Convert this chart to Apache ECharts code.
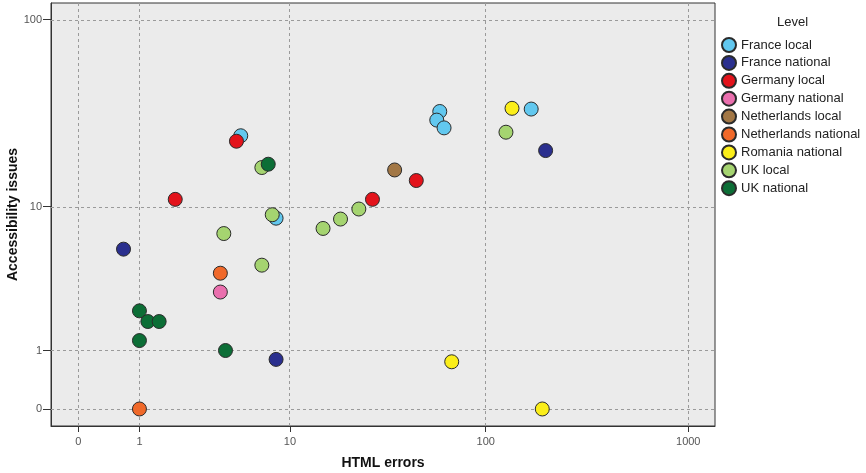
<!DOCTYPE html>
<html>
<head>
<meta charset="utf-8">
<script src="https://cdn.jsdelivr.net/npm/echarts@6/dist/echarts.min.js"></script>
<style>
  html, body { margin: 0; padding: 0; background: #fff; }
  #chart { width: 866px; height: 473px; }
</style>
</head>
<body>
<div id="chart"></div>
<script>
// tick labels (both axes use a log10(v + 1) scale)
var xTicks = [0, 1, 10, 100, 1000];
var yTicks = [0, 1, 10, 100];

// groups and their colours
var levels = ['France local', 'France national', 'Germany local', 'Germany national',
  'Netherlands local', 'Netherlands national', 'Romania national', 'UK local', 'UK national'];
var levelColors = ['#62c8ef', '#2a2f8e', '#e3131b', '#ea6fae', '#a27745',
  '#f0692a', '#fbee1a', '#a5d470', '#0c6e36'];

// HTML errors / accessibility issues per group
var franceLocalX = [5.3, 8.4, 59, 57, 62, 168];
var franceLocalY = [24.5, 8.6, 33, 29.7, 27, 34];
var franceNatX = [0.67, 8.4, 198];
var franceNatY = [5.65, 0.8, 20.4];
var germanyLocalX = [5, 2, 27, 45];
var germanyLocalY = [22.9, 11, 11, 14];
var germanyNatX = [4];
var germanyNatY = [3];
var nlLocalX = [35];
var nlLocalY = [16];
var nlNatX = [4, 1];
var nlNatY = [4, 0];
var romaniaNatX = [135, 67.7, 190.6];
var romaniaNatY = [34.3, 0.75, 0];
var ukLocalX = [7, 8, 4.2, 7, 15, 18.5, 23, 126];
var ukLocalY = [16.5, 9, 7, 4.5, 7.5, 8.5, 9.7, 25.6];
var ukNatX = [7.6, 1, 1.2, 1.5, 1, 4.3];
var ukNatY = [17.2, 2.2, 1.82, 1.82, 1.25, 1];

var groupX = [franceLocalX, franceNatX, germanyLocalX, germanyNatX, nlLocalX, nlNatX, romaniaNatX, ukLocalX, ukNatX];
var groupY = [franceLocalY, franceNatY, germanyLocalY, germanyNatY, nlLocalY, nlNatY, romaniaNatY, ukLocalY, ukNatY];

function tf(v) { return Math.log10(v + 1); }
function untf(v) { return Math.round(Math.pow(10, v) - 1); }

var chart = echarts.init(document.getElementById('chart'));
var font = 'Liberation Sans, Arial, sans-serif';

var series = [];
// grid lines at the tick values, kept under the points
series.push({
  type: 'scatter',
  name: '_grid',
  data: [],
  z: 1,
  silent: true,
  markLine: {
    z: 1,
    silent: true,
    symbol: ['none', 'none'],
    label: { show: false },
    lineStyle: { color: '#9a9a9a', type: [3, 3], width: 1 },
    data: xTicks.map(function (t) { return { xAxis: tf(t) }; })
      .concat(yTicks.map(function (t) { return { yAxis: tf(t) }; }))
  }
});
for (var i = 0; i < levels.length; i++) {
  var pts = [];
  for (var j = 0; j < groupX[i].length; j++) {
    pts.push([tf(groupX[i][j]), tf(groupY[i][j])]);
  }
  series.push({
    type: 'scatter',
    name: levels[i],
    data: pts,
    z: 6,
    symbolSize: 14,
    itemStyle: { color: levelColors[i], borderColor: '#2b2b2b', borderWidth: 1, opacity: 1 }
  });
}

var option = {
  animation: false,
  textStyle: { fontFamily: font },
  title: {
    text: 'Level', left: 772, top: 11,
    textStyle: { fontFamily: font, fontSize: 13, fontWeight: 'normal', color: '#222' }
  },
  legend: {
    data: levels,
    orient: 'vertical',
    left: 716, top: 32,
    itemWidth: 14, itemHeight: 14, itemGap: 1.9,
    icon: 'circle',
    textStyle: { fontFamily: font, fontSize: 13, color: '#222' }
  },
  grid: {
    left: 51, right: 151, top: 3, bottom: 47,
    outerBoundsMode: 'none', containLabel: false,
    show: true, backgroundColor: '#ebebeb', borderColor: '#333', borderWidth: 1
  },
  xAxis: {
    type: 'value', min: -0.134, max: 3.132,
    name: 'HTML errors', nameLocation: 'middle', nameGap: 30, nameMoveOverlap: false,
    nameTextStyle: { fontFamily: font, fontSize: 14, fontWeight: 'bold', color: '#111' },
    axisLine: { show: true, onZero: false, lineStyle: { color: '#333' } },
    axisTick: { show: true, length: 6, lineStyle: { color: '#333' }, customValues: xTicks.map(tf) },
    axisLabel: {
      customValues: xTicks.map(tf), fontSize: 11, color: '#555', margin: 10,
      formatter: function (v) { return String(untf(v)); }
    },
    splitLine: { show: false }
  },
  yAxis: {
    type: 'value', min: -0.0876, max: 2.09,
    name: 'Accessibility issues', nameLocation: 'middle', nameGap: 31, nameMoveOverlap: false,
    nameTextStyle: { fontFamily: font, fontSize: 14, fontWeight: 'bold', color: '#111' },
    axisLine: { show: true, onZero: false, lineStyle: { color: '#333' } },
    axisTick: { show: true, length: 8, lineStyle: { color: '#333' }, customValues: yTicks.map(tf) },
    axisLabel: {
      customValues: yTicks.map(tf), fontSize: 11, color: '#555', margin: 9,
      formatter: function (v) { return String(untf(v)); }
    },
    splitLine: { show: false }
  },
  series: series
};
chart.setOption(option);
</script>
</body>
</html>
